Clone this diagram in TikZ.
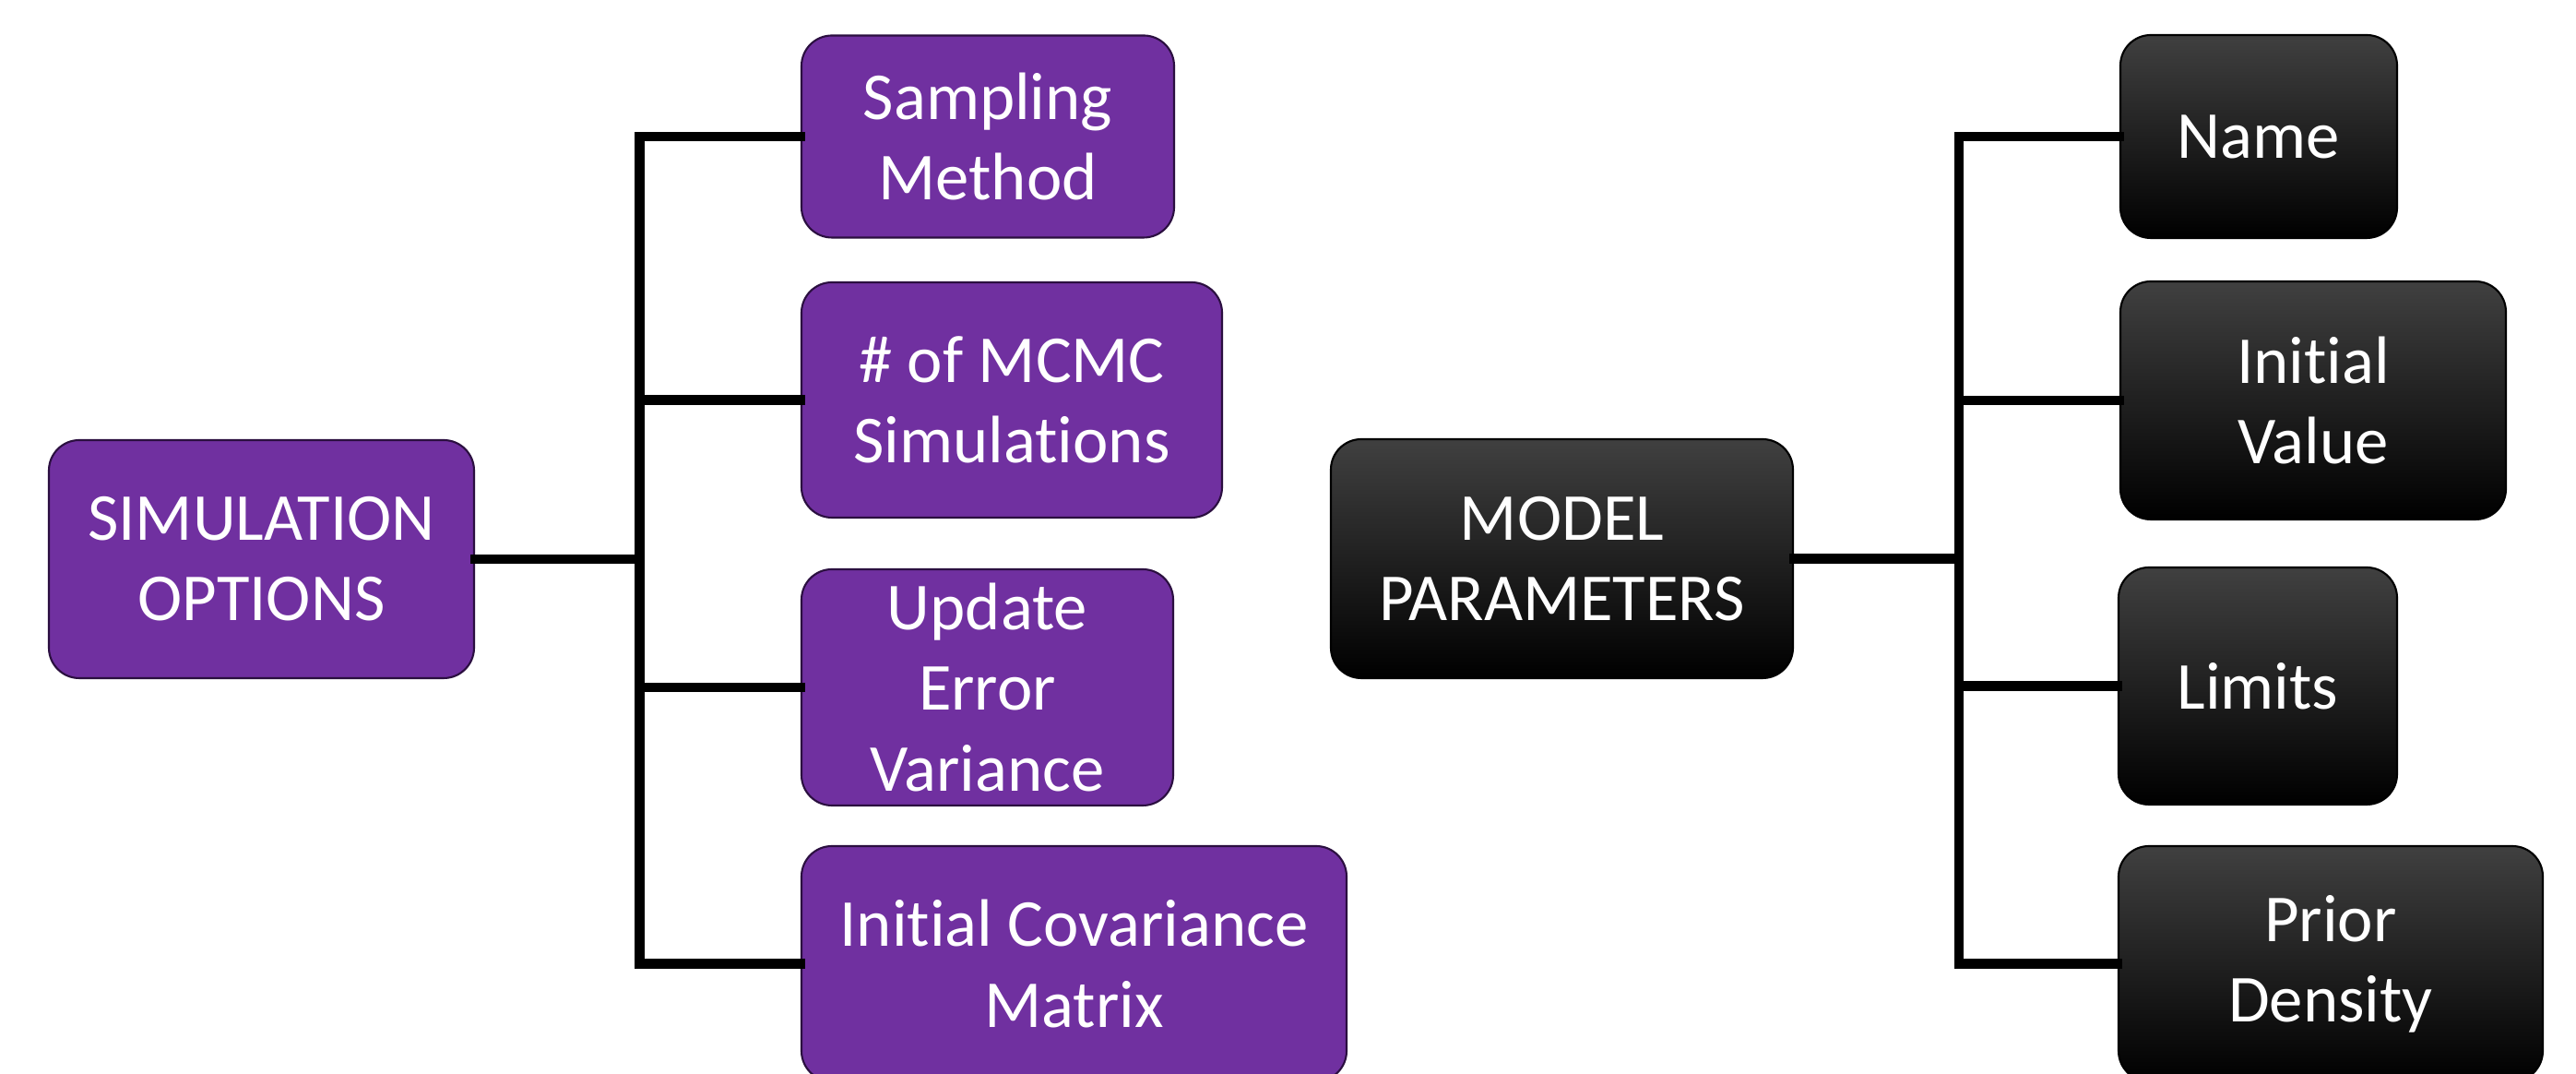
\documentclass[tikz,border=0pt]{standalone}
\usepackage{fontspec}
\setmainfont{Carlito}[Ligatures=NoCommon]
\definecolor{boxpurple}{HTML}{7030A0}
\definecolor{boxedge}{HTML}{2B0F40}
\definecolor{topgray}{HTML}{404040}
\begin{document}
\begin{tikzpicture}[
  box/.style={rounded corners=0.33cm, align=center, text=white, inner sep=0pt,
    font=\fontsize{20.7}{24.8}\selectfont, line width=0.6pt},
  pbox/.style={box, fill=boxpurple, draw=boxedge},
  kbox/.style={box, draw=black, top color=topgray, middle color=black, bottom color=black},
  conn/.style={line width=3.1pt, line join=miter, line cap=rect}
]
\clip (0,0) rectangle (27.93,11.64);
\fill[white] (0,0) rectangle (27.93,11.64);

% left group
\node[pbox, minimum width=4.61cm, minimum height=2.58cm] (so) at (2.835,5.58) {SIMULATION\\OPTIONS};
\node[pbox, minimum width=4.04cm, minimum height=2.19cm] (sm) at (10.71,10.16) {Sampling\\Method};
\node[pbox, minimum width=4.56cm, minimum height=2.55cm] (mc) at (10.97,7.305) {\# of MCMC\\Simulations};
\node[pbox, minimum width=4.03cm, minimum height=2.56cm] (ue) at (10.705,4.19) {Update\\Error\\Variance};
\node[pbox, minimum width=5.91cm, minimum height=2.55cm] (ic) at (11.645,1.195) {Initial Covariance\\Matrix};
\coordinate (bl) at (6.935,0);

% right group
\node[kbox, minimum width=5.01cm, minimum height=2.59cm] (mp) at (16.935,5.585) {MODEL\\PARAMETERS};
\node[kbox, minimum width=3.00cm, minimum height=2.20cm] (nm) at (24.49,10.16) {Name};
\node[kbox, minimum width=4.18cm, minimum height=2.58cm] (iv) at (25.08,7.30) {Initial\\Value};
\node[kbox, minimum width=3.02cm, minimum height=2.57cm] (lm) at (24.48,4.205) {Limits};
\node[kbox, minimum width=4.60cm, minimum height=2.55cm] (pd) at (25.27,1.195) {Prior\\Density};
\coordinate (br) at (21.24,0);

% connectors left
\draw[conn] (so.east) -- (so.east -| bl);
\draw[conn] (sm.west) -- (sm.west -| bl) -- (ic.west -| bl) -- (ic.west);
\draw[conn] (mc.west -| bl) -- (mc.west);
\draw[conn] (ue.west -| bl) -- (ue.west);

% connectors right
\draw[conn] (mp.east) -- (mp.east -| br);
\draw[conn] (nm.west) -- (nm.west -| br) -- (pd.west -| br) -- (pd.west);
\draw[conn] (iv.west -| br) -- (iv.west);
\draw[conn] (lm.west -| br) -- (lm.west);
\end{tikzpicture}
\end{document}
